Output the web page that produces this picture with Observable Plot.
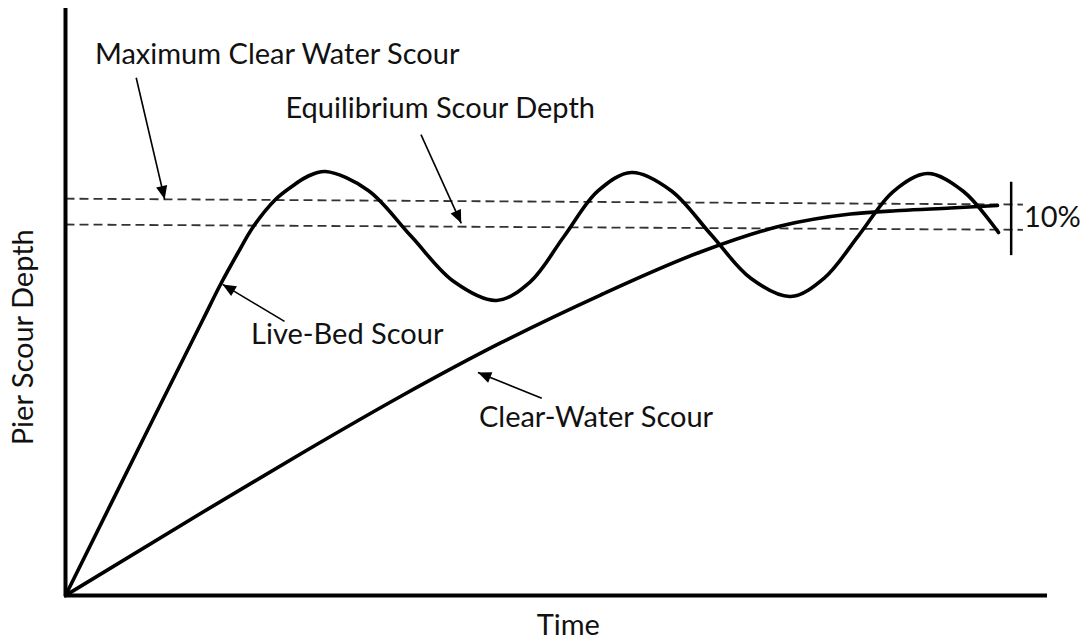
<!DOCTYPE html>
<html>
<head>
<meta charset="utf-8">
<script src="https://cdn.jsdelivr.net/npm/d3@7"></script>
<script src="https://cdn.jsdelivr.net/npm/@observablehq/plot@0.6"></script>
<style>
  html, body { margin: 0; padding: 0; background: #fff; }
  #chart svg { display: block; }
</style>
</head>
<body>
<div id="chart"></div>
<script>
// ---- Data (time and depth in relative units, 0–100) ----
const liveBedTime  = [0, 7.94, 13.95, 15.78, 17.52, 19.14, 21.38, 22.91, 24.64, 26.48, 30.83, 35.18, 39.54, 43.89, 47.33, 50.76, 54.20, 57.64, 61.68, 65.73, 69.78, 73.83, 77.32, 80.80, 84.29, 87.78, 91.45, 95.01];
const liveBedDepth = [0, 26.75, 46.85, 52.98, 58.26, 62.86, 67.46, 69.51, 71.38, 72.23, 69.01, 61.24, 53.48, 50.26, 53.44, 61.16, 68.88, 72.06, 68.96, 61.50, 54.04, 50.94, 54.17, 61.41, 68.82, 71.89, 68.82, 61.84];

const clearWaterTime  = [0, 13.75, 23.93, 34.11, 44.30, 54.48, 64.66, 72.81, 79.94, 85.03, 90.12, 94.91];
const clearWaterDepth = [0, 13.97, 24.11, 33.90, 43.02, 51.19, 58.52, 62.95, 64.99, 65.59, 66.01, 66.44];

// reference (dashed) levels: [start, end]
const refNames  = ["Maximum Clear Water Scour", "Equilibrium Scour Depth"];
const refTime   = [0, 97.5];
const refDepthStart = [67.6, 63.2];
const refDepthEnd   = [66.6, 62.3];

// 10% band marker
const bandTime = 96.3;
const bandDepth = [57.9, 70.4];
const bandLabel = "10%";

// annotation labels
const annText  = ["Maximum Clear Water Scour", "Equilibrium Scour Depth", "Live-Bed Scour", "Clear-Water Scour"];
const annTime  = [3.0, 22.4, 18.9, 42.1];
const annDepth = [92.2, 82.9, 44.4, 30.3];

// annotation arrows: tail -> tip
const arrowTailTime  = [7.2, 36.2, 22.3, 48.5];
const arrowTailDepth = [88.2, 78.5, 46.7, 33.6];
const arrowTipTime   = [10.1, 40.3, 16.0, 42.0];
const arrowTipDepth  = [67.5, 63.4, 53.0, 38.0];

const xLabel = "Time";
const yLabel = "Pier Scour Depth";

// ---- Build ----
const W = 1080, H = 640;
const M = {top: 8, right: 33, bottom: 45, left: 65};
const FONT = "Lato, 'Open Sans', sans-serif";
const FS = 29;

const liveBed = liveBedTime.map((t, i) => ({t, d: liveBedDepth[i]}));
const clearWater = clearWaterTime.map((t, i) => ({t, d: clearWaterDepth[i]}));
const refs = refNames.map((name, i) => ({name, x1: refTime[0], x2: refTime[1], y1: refDepthStart[i], y2: refDepthEnd[i]}));
const anns = annText.map((text, i) => ({text, t: annTime[i], d: annDepth[i]}));

const xs = d3.scaleLinear([0, 100], [M.left, W - M.right]);
const ys = d3.scaleLinear([0, 100], [H - M.bottom, M.top]);
const arrows = arrowTailTime.map((_, i) => {
  const dx = xs(arrowTipTime[i]) - xs(arrowTailTime[i]);
  const dy = ys(arrowTipDepth[i]) - ys(arrowTailDepth[i]);
  return {
    x1: arrowTailTime[i], y1: arrowTailDepth[i],
    x2: arrowTipTime[i], y2: arrowTipDepth[i],
    angle: Math.atan2(dy, dx) * 180 / Math.PI + 90
  };
});

const headSymbol = {
  draw(ctx, size) {
    const L = Math.sqrt(size / Math.PI) * 1.9;
    const w = L * 0.85;
    ctx.moveTo(0, 0);
    ctx.lineTo(-w / 2, L);
    ctx.lineTo(w / 2, L);
    ctx.closePath();
  }
};

const chart = Plot.plot({
  width: W,
  height: H,
  marginTop: M.top,
  marginRight: M.right,
  marginBottom: M.bottom,
  marginLeft: M.left,
  x: {domain: [0, 100], axis: null},
  y: {domain: [0, 100], axis: null},
  style: {fontFamily: FONT, background: "#fff"},
  marks: [
    // dashed reference levels
    Plot.link(refs, {x1: "x1", x2: "x2", y1: "y1", y2: "y2", stroke: "#333", strokeWidth: 1.8, strokeDasharray: "9,5"}),
    // curves
    Plot.line(clearWater, {x: "t", y: "d", curve: "monotone-x", stroke: "#000", strokeWidth: 3.6}),
    Plot.line(liveBed, {x: "t", y: "d", curve: "catmull-rom", stroke: "#000", strokeWidth: 3.6}),
    // axes
    Plot.ruleX([0], {y1: 0, y2: 100, stroke: "#000", strokeWidth: 4}),
    Plot.ruleY([0], {x1: -0.1, x2: 100, stroke: "#000", strokeWidth: 4}),
    // 10% band bar
    Plot.ruleX([bandTime], {y1: bandDepth[0], y2: bandDepth[1], stroke: "#000", strokeWidth: 2.5}),
    Plot.text([bandLabel], {x: bandTime + 1.3, y: (bandDepth[0] + bandDepth[1]) / 2 + 0.2, text: d => d, textAnchor: "start", fontSize: FS, fill: "#111"}),
    // arrows
    Plot.link(arrows, {x1: "x1", y1: "y1", x2: "x2", y2: "y2", stroke: "#000", strokeWidth: 1.6}),
    Plot.dot(arrows, {x: "x2", y: "y2", rotate: "angle", symbol: headSymbol, r: 7, fill: "#000", stroke: "none"}),
    // annotation text
    Plot.text(anns, {x: "t", y: "d", text: "text", textAnchor: "start", fontSize: FS, fill: "#111"}),
    // axis labels
    Plot.text([xLabel], {x: 51.2, y: -5.2, text: d => d, fontSize: FS, fill: "#111"}),
    Plot.text([yLabel], {x: -4.3, y: 44.0, text: d => d, rotate: -90, fontSize: FS, fill: "#111"})
  ]
});

document.getElementById("chart").appendChild(chart);
</script>
</body>
</html>
